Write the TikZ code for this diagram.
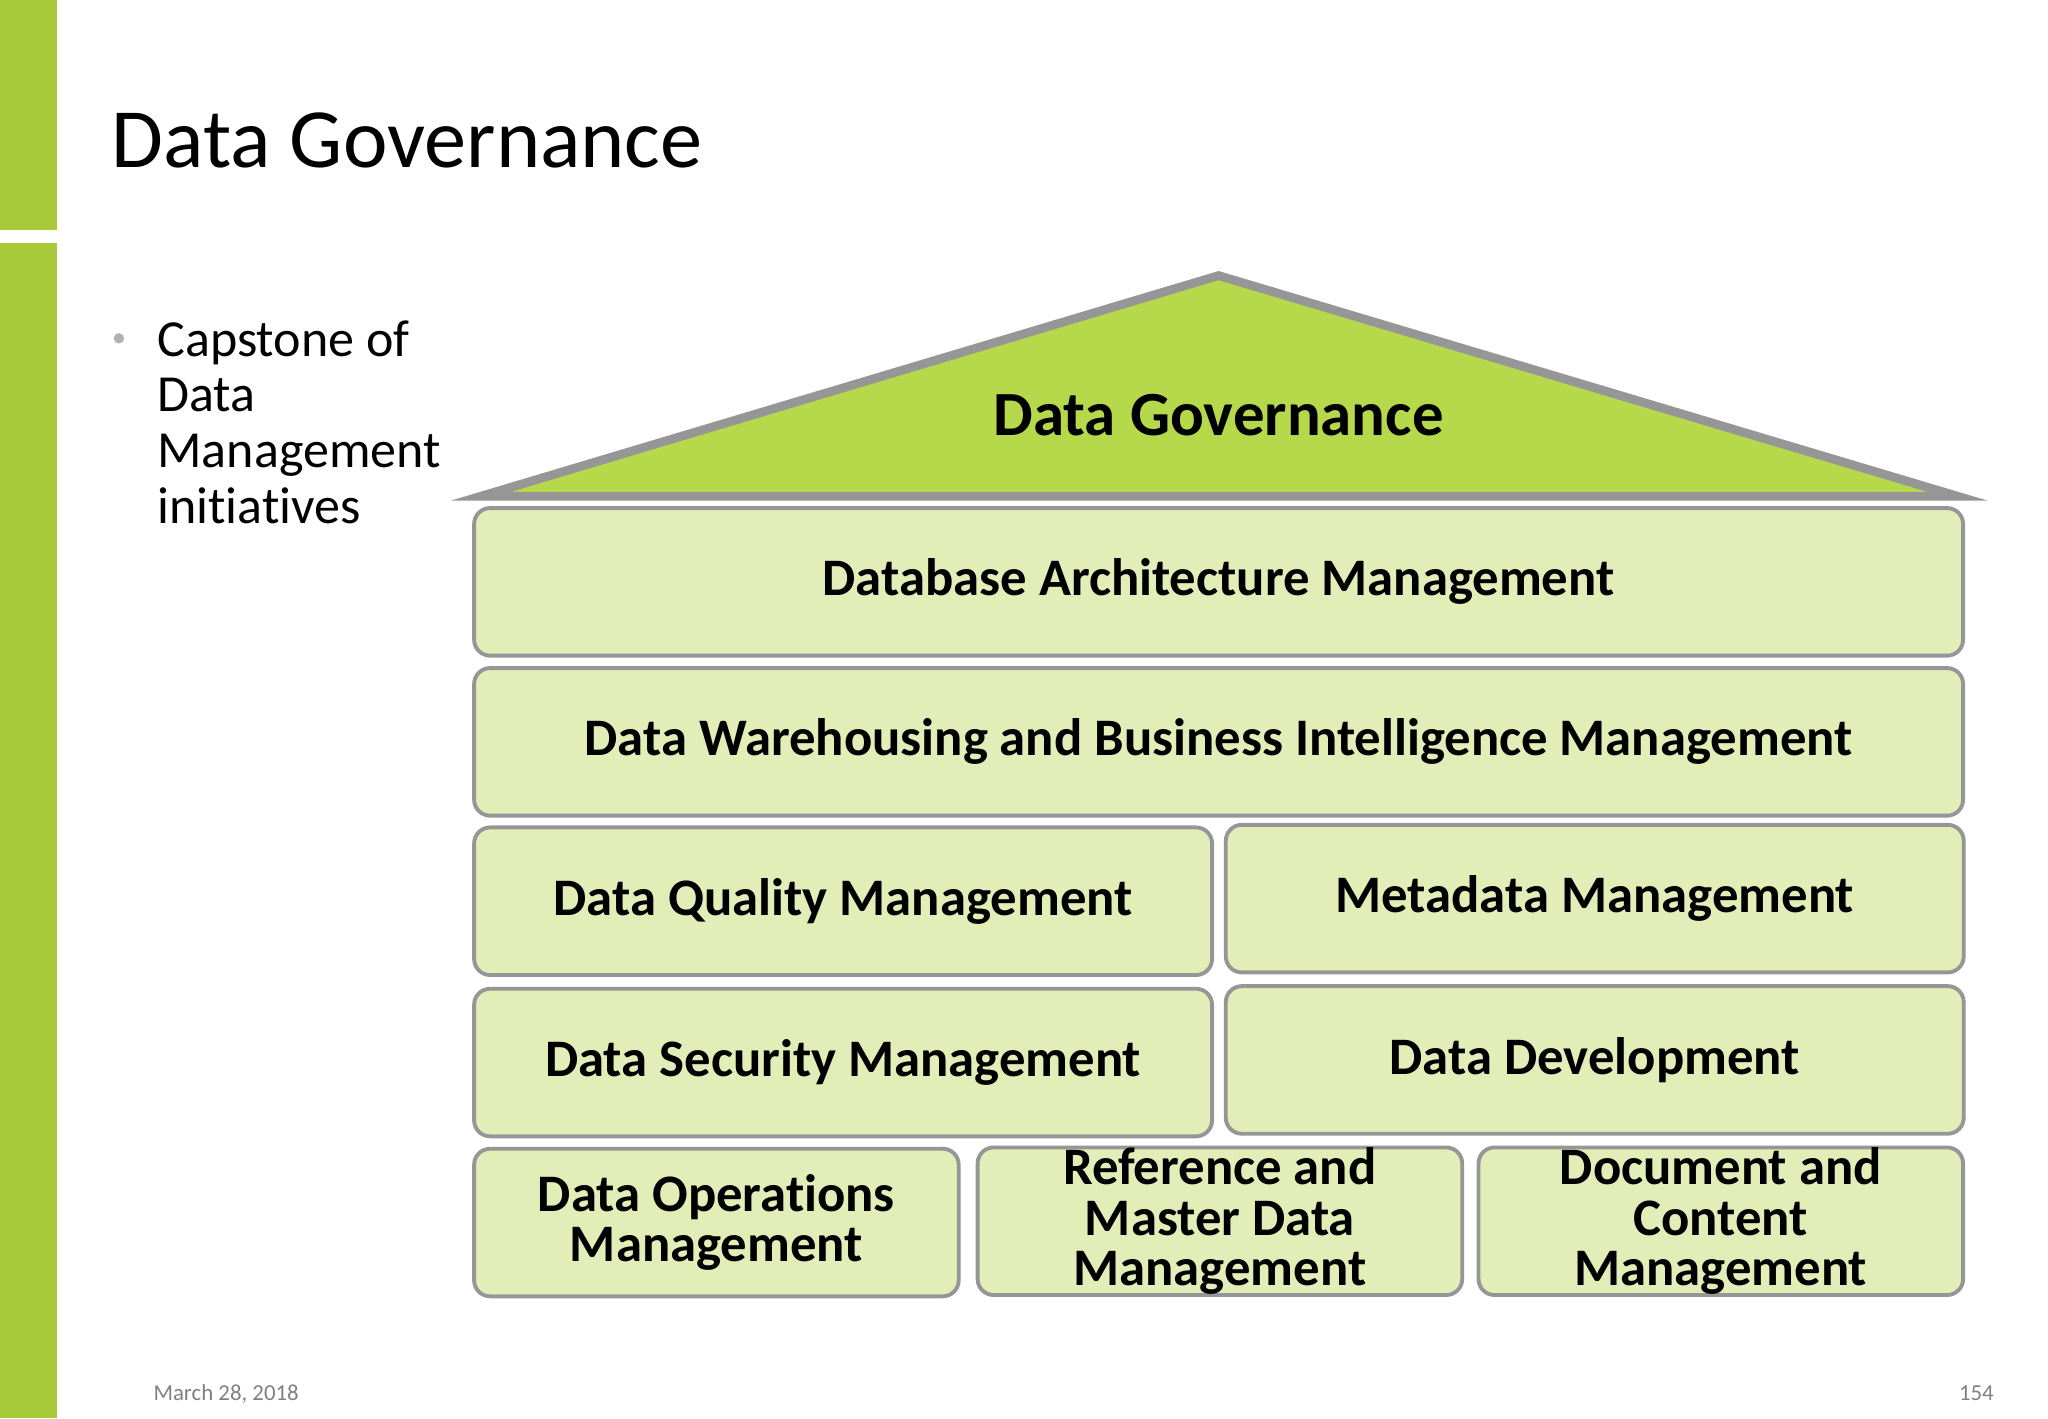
\documentclass[tikz,border=0pt]{standalone}
\usepackage{fontspec}
\setmainfont{Carlito}[Ligatures=NoCommon]
\usepackage{tikz}
\usetikzlibrary{positioning}
\definecolor{barGreen}{RGB}{168,201,58}
\definecolor{roofGreen}{RGB}{182,217,76}
\definecolor{boxGreen}{RGB}{227,237,183}
\definecolor{edgeGray}{RGB}{150,150,150}
\definecolor{footGray}{RGB}{128,128,128}
\newcommand{\unitpx}{0.01306cm}

\begin{document}
\begin{tikzpicture}[x=0.01306cm, y=-0.01306cm,
	box/.style={draw=edgeGray, fill=boxGreen, line width=1.1pt, rounded corners=0.16cm, inner sep=0pt, align=center, minimum height=113*\unitpx, font=\fontsize{15}{14.4}\selectfont\bfseries},
	full/.style={box, minimum width=1140*\unitpx},
	half/.style={box, minimum width=565*\unitpx},
	third/.style={box, minimum width=371*\unitpx},
	roof/.style={draw=edgeGray, fill=roofGreen, line width=2.5pt, line join=miter}]
	\useasboundingbox (0,0) rectangle (1568,1086);
	\fill[barGreen] (0,0) rectangle (44,176);
	\fill[barGreen] (0,186) rectangle (44,1086);
	
	\node[anchor=base west, inner sep=0pt, font=\fontsize{24}{28}\selectfont] (title) at (85,128) {Data Governance};
	\fill[black!30] (91,259) circle (4);
	\node[anchor=base west, inner sep=0pt, align=left, font=\fontsize{14.8}{15.9}\selectfont] (capstone) at (120,401) {Capstone of\\Data\\Management\\initiatives};
	
	\draw[roof] (368,380) -- (933,211) -- (1499,380) -- cycle;
	\node[font=\fontsize{17.9}{20}\selectfont\bfseries] (dg) at (933,318) {Data Governance};
	
	\node[full] (dam) at (933,445.5) {Database Architecture Management};
	\node[full] (dwbi) at (933,568) {Data Warehousing and Business Intelligence Management};
	\node[half] (dqm) at (645.5,690) {Data Quality Management};
	\node[half] (mdm) at (1221,688) {Metadata Management};
	\node[half] (dsm) at (645.5,813.5) {Data Security Management};
	\node[half] (dd) at (1221,811.5) {Data Development};
	\node[third] (dom) at (548.5,936) {Data Operations\\Management};
	\node[third] (rmdm) at (934,935) {Reference and\\Master Data\\Management};
	\node[third] (dcm) at (1317.5,935) {Document and\\Content\\Management};
	
	\node[anchor=base west, inner sep=0pt, text=footGray, font=\fontsize{6.5}{8}\selectfont] (date) at (117,1072) {March 28, 2018};
	\node[anchor=base east, inner sep=0pt, text=footGray, font=\fontsize{6.5}{8}\selectfont] (page) at (1527,1072) {154};
\end{tikzpicture}
\end{document}
